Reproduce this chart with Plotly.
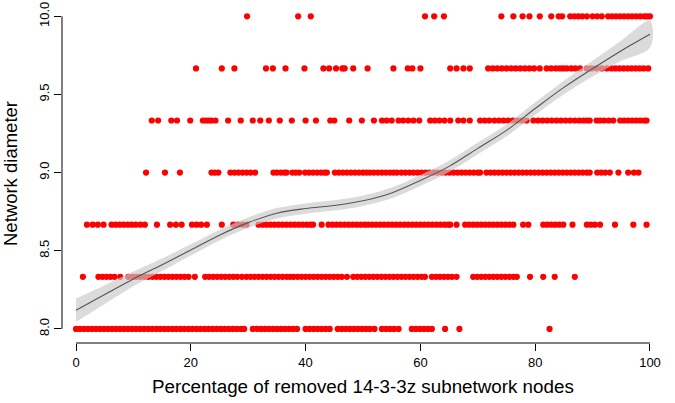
import plotly.graph_objects as go

# ---- data ----
y_levels = [8.0, 8.3333, 8.6667, 9.0, 9.3333, 9.6667, 10.0]

x_row_800 = [0.0, 0.7, 1.4, 2.1, 2.8, 3.5, 4.2, 4.9, 5.6, 6.3, 7.0, 7.7, 8.4, 9.1, 9.8, 10.5,
             11.2, 11.9, 12.6, 13.3, 14.0, 14.7, 15.4, 16.1, 16.8, 17.5, 18.2, 18.9, 19.6, 20.3,
             21.0, 21.7, 22.4, 23.1, 23.8, 24.5, 25.2, 25.9, 26.6, 27.3, 28.0, 28.7, 29.3,
             30.8, 31.5, 32.2, 32.9, 33.6, 34.3, 35.0, 35.7, 36.4, 37.1, 37.8, 38.5,
             40.0, 40.7, 41.4, 42.1, 42.8, 43.5, 44.2, 45.6, 46.3, 47.0, 47.7, 48.4, 49.1, 49.8,
             50.5, 51.2, 52.0, 53.3, 54.0, 54.7, 55.4, 56.2, 58.5, 59.2, 59.9, 60.6, 61.3, 62.0,
             64.3, 66.8, 82.5]
x_row_833 = [1.2, 3.9, 4.6, 5.3, 6.0, 6.7, 7.7, 9.1, 9.8, 10.5, 11.2, 11.9, 12.6, 13.3, 14.0,
             14.7, 15.4, 16.1, 16.8, 17.5, 18.2, 18.9, 19.6, 20.7, 22.5, 23.2, 23.9, 24.6, 25.3,
             26.0, 26.7, 27.4, 28.1, 28.9, 29.7, 30.4, 31.1, 31.8, 32.5, 33.2, 33.9, 34.6, 35.3,
             36.0, 36.7, 37.3, 37.9, 38.6, 39.3, 40.0, 40.7, 41.4, 42.1, 42.8, 43.5, 44.2, 44.9,
             45.6, 46.3, 47.2, 48.3, 49.0, 49.7, 50.4, 51.1, 51.8, 52.5, 53.2, 53.9, 54.6, 55.3,
             56.0, 56.7, 57.4, 58.1, 58.8, 59.5, 60.2, 60.8, 62.0, 62.7, 63.4, 64.1, 64.8, 65.5,
             66.3, 69.2, 69.9, 70.6, 71.3, 72.0, 72.7, 73.4, 74.1, 74.8, 75.5, 76.2, 76.8, 79.1,
             81.4, 83.4, 86.9]
x_row_867 = [1.9, 2.9, 3.8, 4.8, 6.2, 6.9, 7.6, 8.3, 9.0, 9.7, 10.4, 11.2, 12.0, 14.1, 16.4,
             17.4, 18.4, 20.2, 21.0, 21.8, 22.8, 25.4, 27.4, 28.2, 29.0, 29.7, 31.8, 32.5, 33.2,
             33.9, 34.6, 35.3, 36.0, 36.7, 37.4, 38.1, 38.8, 39.5, 40.2, 40.8, 41.3, 42.8, 44.0,
             44.7, 45.4, 46.1, 46.8, 47.5, 48.2, 48.9, 49.6, 50.3, 50.9, 51.6, 52.3, 53.0, 53.7,
             54.4, 55.1, 55.8, 56.5, 57.2, 57.9, 58.6, 59.3, 60.0, 60.7, 61.4, 62.1, 62.8, 63.5,
             64.2, 64.8, 65.2, 66.3, 67.8, 68.5, 69.2, 69.9, 70.6, 71.3, 72.0, 72.7, 73.4, 74.1,
             74.8, 75.5, 76.2, 77.9, 78.8, 81.4, 82.1, 82.8, 83.5, 84.2, 84.9, 86.5, 89.0, 89.7,
             90.4, 91.3, 93.9, 97.1, 99.4]
x_row_900 = [12.2, 15.5, 18.1, 23.6, 24.2, 24.8, 26.9, 27.6, 28.3, 29.0, 29.7, 30.4, 31.2, 34.4,
             35.0, 35.7, 36.3, 36.7, 37.7, 38.3, 38.9, 39.9, 40.6, 41.3, 42.0, 42.7, 43.3, 43.7,
             45.1, 45.8, 46.5, 47.2, 47.9, 48.6, 49.3, 50.0, 50.6, 51.2, 51.9, 52.6, 53.3, 54.0,
             54.7, 55.3, 55.9, 56.7, 57.4, 58.1, 58.8, 59.5, 60.2, 60.9, 61.6, 62.3, 63.0, 63.7,
             64.4, 65.1, 65.8, 66.5, 67.2, 67.9, 68.6, 69.3, 70.0, 70.4, 71.5, 72.2, 72.9, 73.6,
             74.3, 75.0, 75.7, 76.4, 77.1, 77.8, 78.5, 79.2, 79.9, 80.6, 81.3, 82.0, 82.7, 83.4,
             84.1, 84.8, 85.5, 86.2, 86.9, 87.6, 88.3, 89.0, 89.5, 90.8, 91.5, 92.2, 93.0, 94.5,
             96.2, 97.2, 98.0]
x_row_933 = [13.2, 14.3, 16.6, 17.6, 19.9, 22.1, 22.6, 23.1, 23.6, 24.3, 26.5, 28.7, 30.8, 32.1,
             33.6, 35.5, 37.6, 40.0, 41.8, 44.3, 45.0, 47.6, 49.8, 51.9, 53.3, 54.1, 55.0, 56.2,
             57.0, 57.9, 58.8, 59.8, 61.7, 62.5, 63.3, 64.2, 65.2, 66.6, 67.5, 68.6, 70.4, 71.2,
             72.0, 72.9, 73.7, 74.5, 75.3, 76.1, 76.9, 77.7, 78.5, 79.7, 80.5, 81.3, 82.1, 82.9,
             83.7, 84.5, 85.3, 86.1, 86.9, 87.7, 88.4, 89.0, 89.5, 90.7, 91.3, 92.0, 92.8, 93.6,
             94.8, 95.5, 96.2, 96.9, 97.6, 98.3, 99.0, 99.4]
x_row_967 = [20.9, 25.4, 27.6, 33.1, 34.3, 36.5, 39.8, 43.1, 44.1, 45.3, 46.4, 46.8, 48.3, 50.8,
             55.3, 57.8, 58.6, 60.0, 65.2, 66.3, 67.5, 68.6, 71.8, 72.6, 73.4, 74.2, 75.0, 75.8,
             76.6, 77.4, 78.2, 79.0, 79.8, 80.8, 82.0, 82.8, 83.6, 84.3, 84.9, 85.5, 86.3, 87.0,
             87.8, 89.0, 89.8, 90.7, 91.6, 92.5, 93.3, 94.0, 94.7, 95.4, 96.1, 96.8, 97.5, 98.2,
             98.9, 99.7]
x_row_1000 = [29.8, 38.7, 40.9, 60.8, 62.4, 64.1, 74.1, 76.2, 77.8, 79.0, 80.8, 82.8, 84.1, 84.7,
              86.1, 86.8, 87.5, 88.2, 89.0, 90.0, 90.8, 91.6, 92.7, 93.4, 94.1, 94.8, 95.5, 96.2,
              96.9, 97.6, 98.3, 99.0, 99.5, 100.0]

rows = [x_row_800, x_row_833, x_row_867, x_row_900, x_row_933, x_row_967, x_row_1000]

# loess smooth and its standard-error half width
smooth_x = [0, 5, 10, 15, 20, 25, 30, 35, 40, 45, 50, 55, 60, 65, 70, 75, 80, 85, 90, 95, 100]
smooth_y = [8.12, 8.22, 8.32, 8.41, 8.505, 8.6, 8.68, 8.74, 8.77, 8.79, 8.82, 8.87, 8.95,
            9.04, 9.155, 9.27, 9.41, 9.545, 9.665, 9.78, 9.885]
smooth_se = [0.075, 0.06, 0.047, 0.04, 0.036, 0.034, 0.033, 0.033, 0.033, 0.033, 0.033, 0.034,
             0.035, 0.036, 0.037, 0.038, 0.04, 0.043, 0.05, 0.065, 0.085]

x_ticks = [0, 20, 40, 60, 80, 100]
y_ticks = [8.0, 8.5, 9.0, 9.5, 10.0]
y_tick_labels = ["8.0", "8.5", "9.0", "9.5", "10.0"]

# ---- build ----
px_all, py_all = [], []
for lvl, xs in zip(y_levels, rows):
    px_all += xs
    py_all += [lvl] * len(xs)

fig = go.Figure()
fig.add_trace(go.Scatter(x=px_all, y=py_all, mode="markers",
                         marker=dict(color="#ff0000", size=6.2, line=dict(width=0)),
                         hoverinfo="skip", showlegend=False))

upper = [m + s for m, s in zip(smooth_y, smooth_se)]
lower = [m - s for m, s in zip(smooth_y, smooth_se)]
fig.add_trace(go.Scatter(x=smooth_x + smooth_x[::-1], y=upper + lower[::-1],
                         fill="toself", fillcolor="rgba(200,200,200,0.65)",
                         line=dict(width=0, shape="spline"), mode="lines",
                         hoverinfo="skip", showlegend=False))
fig.add_trace(go.Scatter(x=smooth_x, y=smooth_y, mode="lines",
                         line=dict(color="#555555", width=1.1, shape="spline"),
                         hoverinfo="skip", showlegend=False))

font_family = "Liberation Sans, Arial, sans-serif"
fig.update_layout(
    width=675, height=403,
    margin=dict(l=62, r=11, t=3, b=60),
    paper_bgcolor="white", plot_bgcolor="white",
    font=dict(family=font_family, size=13, color="black"),
    xaxis=dict(range=[-2.44, 102.44], tickvals=x_ticks, showgrid=False, zeroline=False,
               showline=False, ticks="outside", ticklen=7, tickcolor="black",
               tickfont=dict(size=13), automargin=False),
    yaxis=dict(range=[7.91, 10.085], tickvals=y_ticks, ticktext=y_tick_labels,
               tickangle=-90, showgrid=False, zeroline=False, showline=False,
               ticks="outside", ticklen=7, tickcolor="black", tickfont=dict(size=13),
               automargin=False),
    shapes=[
        dict(type="line", xref="x", yref="paper", x0=x_ticks[0], x1=x_ticks[-1], y0=0, y1=0,
             line=dict(color="black", width=1)),
        dict(type="line", xref="paper", yref="y", x0=0, x1=0, y0=y_ticks[0], y1=y_ticks[-1],
             line=dict(color="black", width=1)),
    ],
    annotations=[
        dict(text="Percentage of removed 14-3-3z subnetwork nodes", xref="paper", yref="paper",
             x=0.5, y=-0.127, yanchor="middle", showarrow=False, font=dict(size=18.8)),
        dict(text="Network diameter", xref="paper", yref="paper", x=-0.0864, y=0.5,
             xanchor="center", yanchor="middle", textangle=-90, showarrow=False,
             font=dict(size=18.5)),
    ],
)

fig.write_html("out.html", config={"displayModeBar": False},
               post_script="document.body.style.margin='0';")
